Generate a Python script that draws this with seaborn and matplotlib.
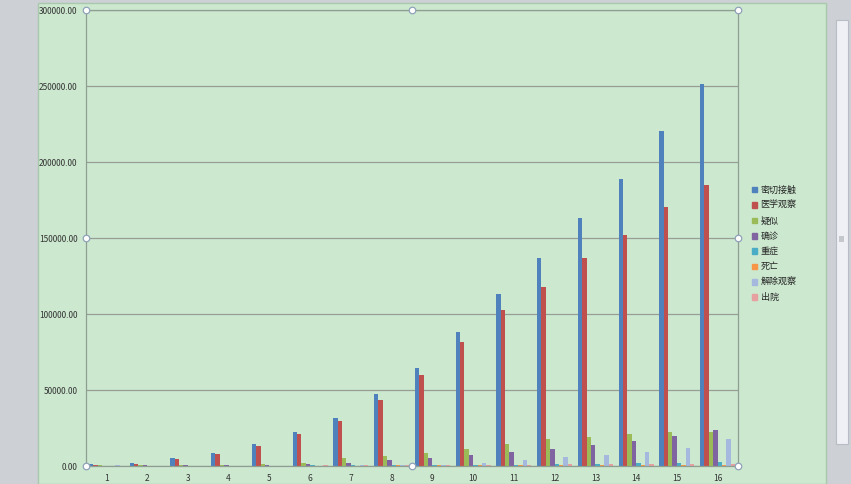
import matplotlib
matplotlib.use('Agg')
import matplotlib.pyplot as plt
import matplotlib.patches as mpatches
import pandas as pd
import seaborn as sns

# data
groups = [str(i) for i in range(1, 17)]
series_names = ['密切接触', '医学观察', '疑似', '确诊', '重症', '死亡', '解除观察', '出院']
close_contact = [1100, 1750, 5050, 8770, 14500, 22600, 31600, 47400, 64500, 88200,
                 113200, 136800, 163200, 188800, 220400, 251300]
med_observe = [700, 1100, 4400, 7900, 13200, 20900, 29600, 43400, 59900, 81600,
               102600, 117800, 136800, 152200, 170600, 184900]
suspected = [400, 500, 600, 800, 1300, 2200, 5300, 6400, 8600, 11400,
             14500, 17600, 18900, 21100, 22600, 22600]
confirmed = [300, 400, 500, 600, 700, 1300, 2200, 4000, 5100, 7000,
             9000, 11200, 13800, 16700, 19700, 23700]
severe = [100, 150, 200, 250, 300, 350, 400, 500, 600, 700,
          800, 1100, 1500, 1750, 2200, 2800]
deaths = [50, 80, 100, 150, 200, 250, 300, 350, 400, 500,
          550, 600, 650, 700, 750, 800]
released = [500, 300, 300, 300, 300, 300, 400, 500, 800, 1750,
            3950, 5700, 7450, 9200, 12000, 18000]
discharged = [100, 150, 200, 250, 300, 350, 400, 450, 500, 700,
              900, 1000, 1100, 1200, 1300, 1400]

colors = ['#4F81BD', '#C0504D', '#9BBB59', '#8064A2', '#4BACC6', '#F79646', '#A5B8DE', '#E6A0A0']

df = pd.DataFrame({'group': groups})
for name, vals in zip(series_names, [close_contact, med_observe, suspected, confirmed,
                                      severe, deaths, released, discharged]):
    df[name] = vals
df_long = df.melt(id_vars='group', var_name='series', value_name='value')

sns.set_style('white')
plt.rcParams['font.family'] = ['Noto Sans CJK SC', 'DejaVu Sans']

fig = plt.figure(figsize=(8.51, 4.84), dpi=100)
fig.patch.set_facecolor('#CDD0D5')
# green chart area and scrollbar from the screenshot
fig.patches.append(mpatches.Rectangle((38 / 851, 0), (826 - 38) / 851, 481 / 484,
                                      transform=fig.transFigure, facecolor='#CCE8CF',
                                      edgecolor='#A9C9AD', lw=1, zorder=0))
fig.patches.append(mpatches.Rectangle((836 / 851, 40 / 484), 12 / 851, 424 / 484,
                                      transform=fig.transFigure, facecolor='#EEF0F5',
                                      edgecolor='#B8BCC4', lw=0.8, zorder=0))
fig.patches.append(mpatches.Rectangle((839 / 851, 242 / 484), 5 / 851, 6 / 484,
                                      transform=fig.transFigure, facecolor='#C4C7CC',
                                      edgecolor='none', zorder=1))

ax = fig.add_axes([86 / 851, 18 / 484, (738 - 86) / 851, (466 - 10) / 484])
ax.set_zorder(3)
ax.set_facecolor('#CCE8CF')

sns.barplot(data=df_long, x='group', y='value', hue='series', hue_order=series_names,
            palette=colors, width=0.86, gap=0, saturation=1, ax=ax, legend=False,
            errorbar=None, linewidth=0, edgecolor='none')

ax.set_ylim(0, 300000)
ax.set_xlim(-0.5, 15.5)
ax.set_yticks(range(0, 300001, 50000))
ax.set_yticklabels(['%.2f' % v for v in range(0, 300001, 50000)])
ax.yaxis.grid(True, color='#969E97', lw=0.9)
ax.set_axisbelow(True)
ax.set_xlabel('')
ax.set_ylabel('')
ax.tick_params(axis='both', labelsize=6, colors='#333333', length=0, pad=6)
ax.set_xticks([x - 0.5 for x in range(1, 16)], minor=True)
ax.tick_params(axis='x', which='minor', length=3, color='#8E9E90')
for s in ['left', 'bottom', 'top', 'right']:
    ax.spines[s].set_visible(True)
    ax.spines[s].set_color('#8E9E90')
    ax.spines[s].set_linewidth(0.9)

# selection handles of the plot area
hx = [0, 0.5, 1, 0, 1, 0, 0.5, 1]
hy = [1, 1, 1, 0.5, 0.5, 0, 0, 0]
ax.scatter(hx, hy, s=22, facecolor='white', edgecolor='#8FA3B8', lw=0.9,
           transform=ax.transAxes, clip_on=False, zorder=10)

handles = [mpatches.Patch(color=c, label=n) for c, n in zip(colors, series_names)]
leg = fig.legend(handles=handles, loc='center left', bbox_to_anchor=(748 / 851, 1 - 244 / 484),
                 frameon=False, fontsize=6.5, handlelength=0.6, handleheight=0.6,
                 handletextpad=0.4, labelspacing=0.7, borderaxespad=0)
leg.set_zorder(4)

fig.savefig('out.png', dpi=100, facecolor=fig.get_facecolor())
